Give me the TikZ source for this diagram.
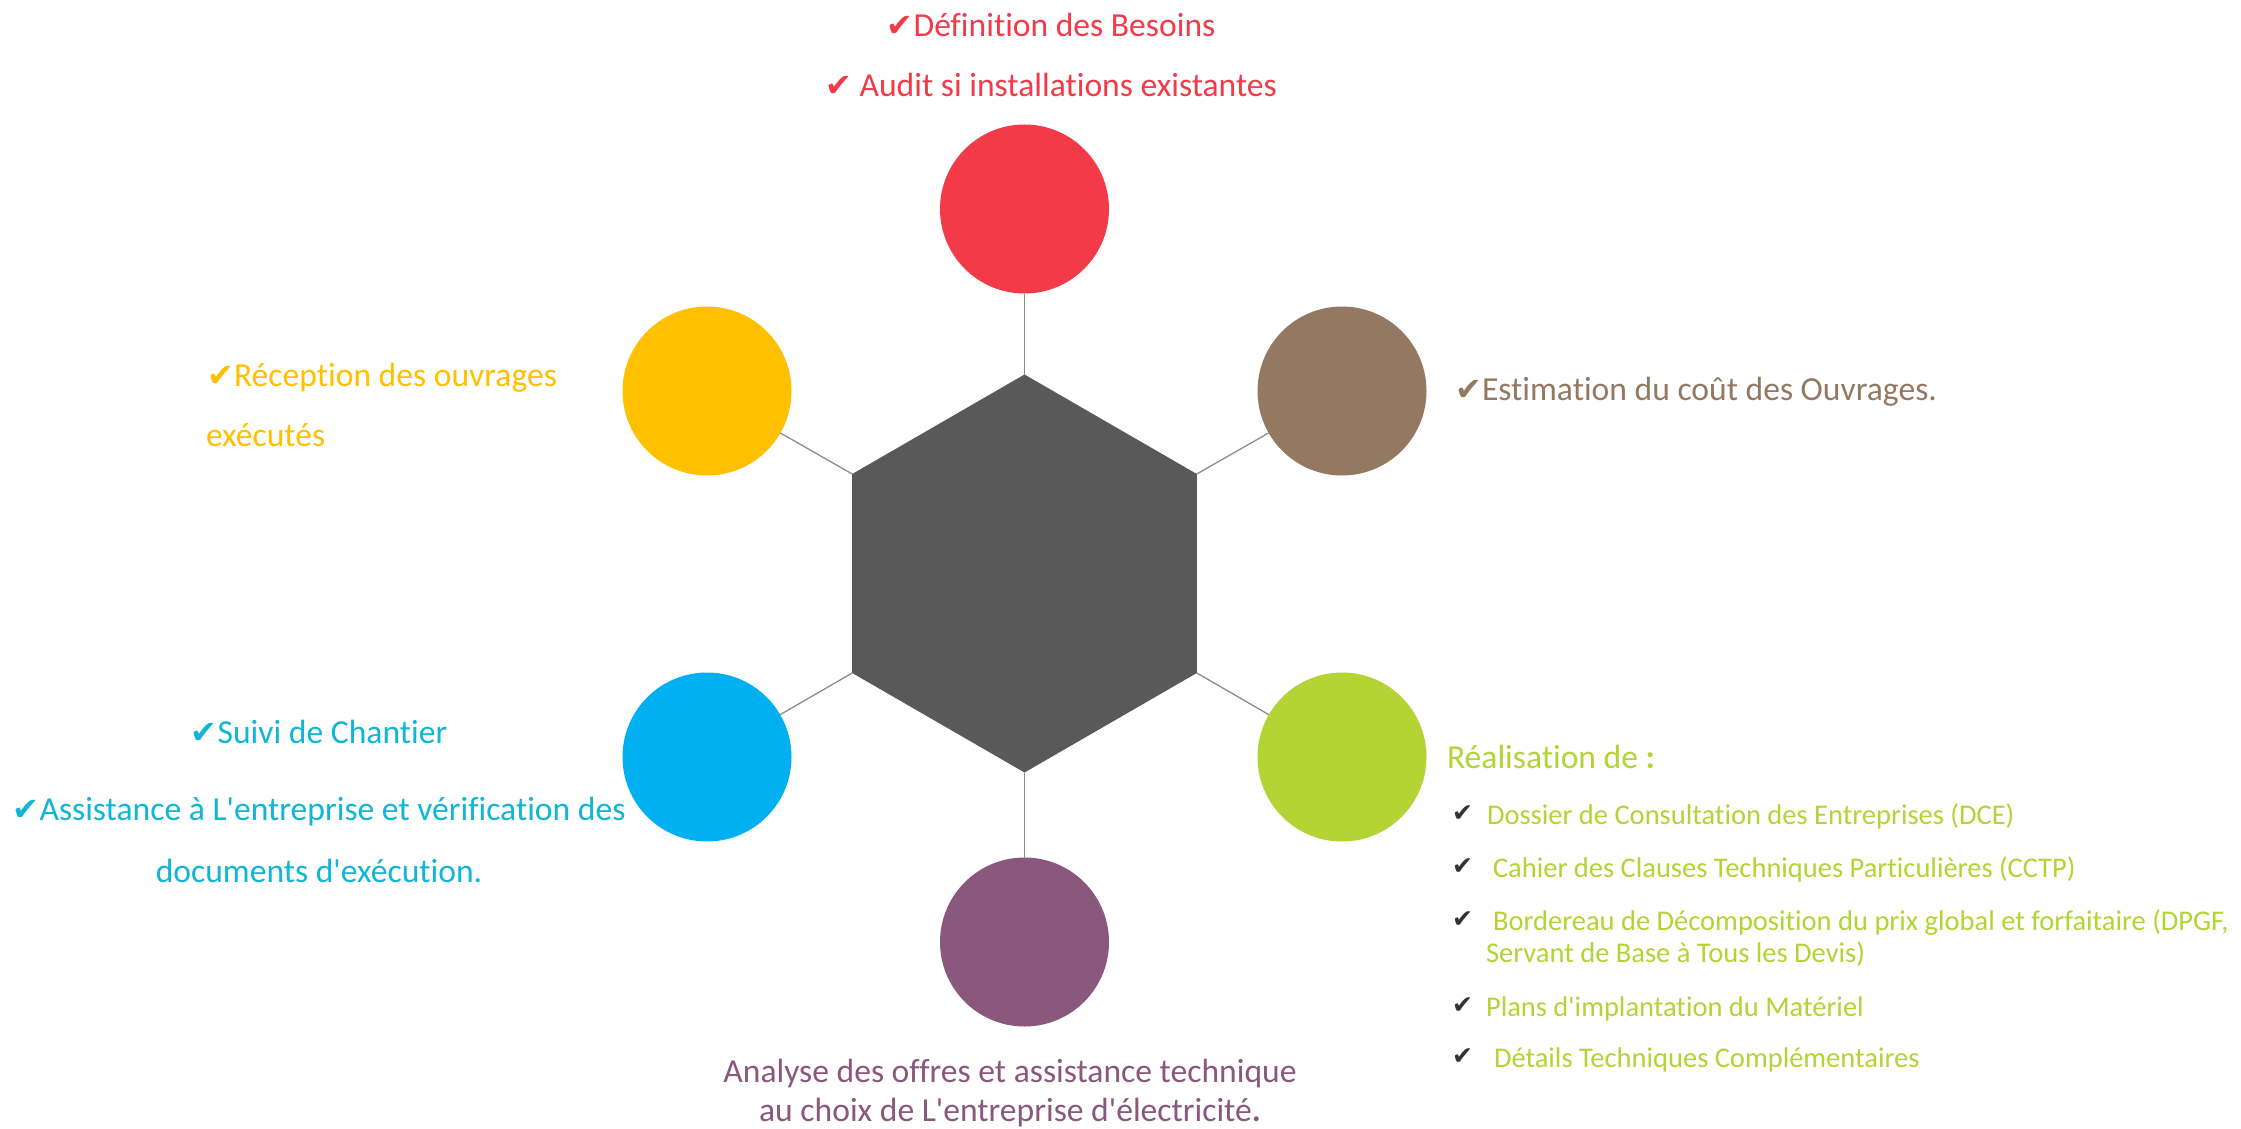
\documentclass[tikz,border=0pt]{standalone}
\usepackage{fontspec}
\setmainfont{Carlito}[Ligatures={TeXOff,NoCommon}]
\newfontfamily\symfont{DejaVu Sans}
\definecolor{cred}{HTML}{F23A48}
\definecolor{cbrown}{HTML}{937862}
\definecolor{cgreen}{HTML}{B4D334}
\definecolor{cpurple}{HTML}{8A577D}
\definecolor{cblue}{HTML}{00B0F0}
\definecolor{cbluetext}{HTML}{11B6D6}
\definecolor{cyellow}{HTML}{FFC000}
\definecolor{chex}{HTML}{595959}
\definecolor{cline}{HTML}{8C8C8C}
\definecolor{cdark}{HTML}{333333}
\newcommand{\bigchk}{\makebox[27pt][l]{\symfont\fontsize{32}{32}\selectfont ✔}}
\newcommand{\smallchk}{\raisebox{3pt}{\symfont\fontsize{25}{25}\selectfont ✔}}
\newcommand{\lchk}[1]{\makebox[#1pt][l]{\color{cdark}\smallchk}}
\tikzset{
  bubble/.style={circle, minimum size=169pt, inner sep=0pt, outer sep=0pt, draw=none},
  link/.style={draw=cline, line width=1.3pt},
  bigtxt/.style={font=\fontsize{33.6}{40}\selectfont, inner sep=0pt, outer sep=0pt},
  smalltxt/.style={font=\fontsize{28.5}{34}\selectfont, inner sep=0pt, outer sep=0pt, text=cgreen, anchor=base west},
}
\begin{document}
\begin{tikzpicture}[x=1pt,y=-1pt]
\fill[white] (0,0) rectangle (2241,1129);
\useasboundingbox (0,0) rectangle (2241,1129);
% hexagon vertices
\coordinate (ht) at (1024.5,374.5);
\coordinate (hur) at (1196.8,474);
\coordinate (hlr) at (1196.8,673);
\coordinate (hb) at (1024.5,772.5);
\coordinate (hll) at (852.2,673);
\coordinate (hul) at (852.2,474);
\fill[chex] (ht) -- (hur) -- (hlr) -- (hb) -- (hll) -- (hul) -- cycle;
% circles
\node[bubble, fill=cred] (red) at (1024.5,209) {};
\node[bubble, fill=cbrown] (brown) at (1342,391) {};
\node[bubble, fill=cgreen] (green) at (1342,757) {};
\node[bubble, fill=cpurple] (purple) at (1024.5,942) {};
\node[bubble, fill=cblue] (blue) at (707,757) {};
\node[bubble, fill=cyellow] (yellow) at (707,391) {};
% connectors
\draw[link] (ht) -- (red);
\draw[link] (hur) -- (brown);
\draw[link] (hlr) -- (green);
\draw[link] (hb) -- (purple);
\draw[link] (hll) -- (blue);
\draw[link] (hul) -- (yellow);
% red texts
\node[bigtxt, text=cred, anchor=base] (r1) at (1051,37) {\bigchk Définition des Besoins};
\node[bigtxt, text=cred, anchor=base] (r2) at (1051,97) {\bigchk{} Audit si installations existantes};
% brown
\node[bigtxt, text=cbrown, anchor=base west] (b1) at (1455,400) {\bigchk Estimation du coût des Ouvrages.};
% yellow
\node[bigtxt, text=cyellow, anchor=base west] (y1) at (207,386) {\bigchk Réception des ouvrages};
\node[bigtxt, text=cyellow, anchor=base west] (y2) at (206,446) {exécutés};
% blue
\node[bigtxt, text=cbluetext, anchor=base] (s1) at (319,743) {\bigchk Suivi de Chantier};
\node[bigtxt, text=cbluetext, anchor=base] (s2) at (319,820) {\bigchk Assistance à L'entreprise et vérification des};
\node[bigtxt, text=cbluetext, anchor=base] (s3) at (319,882) {documents d'exécution.};
% purple
\node[bigtxt, text=cpurple, anchor=base] (p1) at (1010,1082) {Analyse des offres et assistance technique};
\node[bigtxt, text=cpurple, anchor=base] (p2) at (1010,1121) {au choix de L'entreprise d'électricité\textbf{.}};
% green
\node[bigtxt, text=cgreen, anchor=base west] (g0) at (1447,768) {Réalisation de \textbf{:}};
\node[smalltxt] (g1) at (1452,824) {\lchk{35}Dossier de Consultation des Entreprises (DCE)};
\node[smalltxt] (g2) at (1452,877) {\lchk{41}Cahier des Clauses Techniques Particulières (CCTP)};
\node[smalltxt] (g3) at (1452,930) {\lchk{41}Bordereau de Décomposition du prix global et forfaitaire (DPGF,};
\node[smalltxt] (g4) at (1486,962) {Servant de Base à Tous les Devis)};
\node[smalltxt] (g5) at (1452,1016) {\lchk{34}Plans d'implantation du Matériel};
\node[smalltxt] (g6) at (1452,1067) {\lchk{42}Détails Techniques Complémentaires};
\end{tikzpicture}
\end{document}
